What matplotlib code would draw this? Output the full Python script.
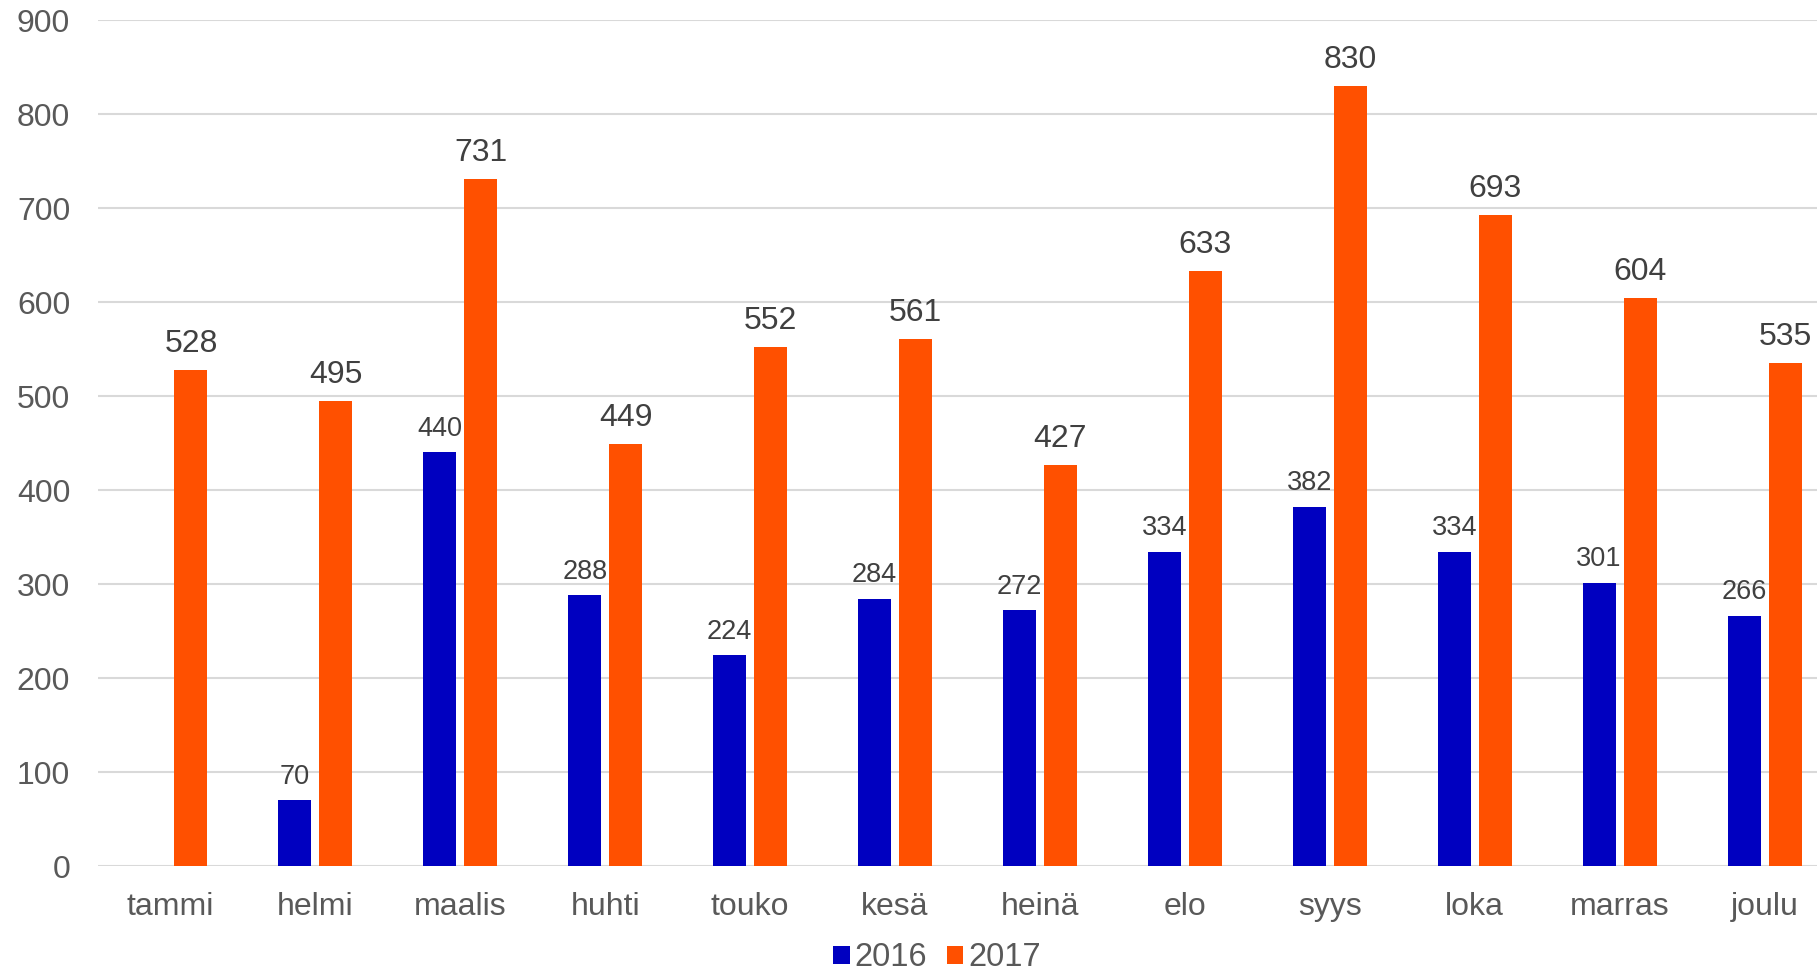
import numpy as np
from matplotlib import pyplot as plt

plt.rcParams['font.family'] = ['Liberation Sans', 'DejaVu Sans']

months = ["tammi", "helmi", "maalis", "huhti", "touko", "kesä",
          "heinä", "elo", "syys", "loka", "marras", "joulu"]
values_2016 = [np.nan, 70, 440, 288, 224, 284, 272, 334, 382, 334, 301, 266]
values_2017 = [528, 495, 731, 449, 552, 561, 427, 633, 830, 693, 604, 535]
y_ticks = [0, 100, 200, 300, 400, 500, 600, 700, 800, 900]

blue = '#0000C0'
orange = '#FF5000'
tick_grey = '#595959'
label_grey = '#404040'

fig = plt.figure(figsize=(18.17, 9.77), dpi=100)
ax = fig.add_axes([98 / 1817, 111 / 977, 1739 / 1817, 846 / 977])

x = np.arange(len(months))
w = 0.228
off = 0.1415
b16 = ax.bar(x - off, values_2016, w, color=blue, label="2016", zorder=3)
b17 = ax.bar(x + off, values_2017, w, color=orange, label="2017", zorder=3)

for xi, v in zip(x, values_2016):
    if not np.isnan(v):
        ax.annotate("%d" % v, (xi - off, v), xytext=(0, 12), textcoords='offset points',
                    ha='center', va='baseline', fontsize=19.5, color=label_grey)
for xi, v in zip(x, values_2017):
    ax.annotate("%d" % v, (xi + off, v), xytext=(0, 13), textcoords='offset points',
                ha='center', va='baseline', fontsize=23, color=label_grey)

ax.set_xlim(-0.5, len(months) - 0.5)
ax.set_ylim(0, 900)
ax.set_yticks(y_ticks)
ax.set_xticks(x)
ax.set_xticklabels(months)
ax.tick_params(axis='y', length=0, pad=20, labelsize=23, labelcolor=tick_grey)
ax.tick_params(axis='x', length=0, pad=18.5, labelsize=23, labelcolor=tick_grey)
ax.grid(axis='y', color='#d9d9d9', linewidth=1.5, zorder=0)
for s in ax.spines.values():
    s.set_visible(False)

fig.legend(handles=[b16, b17], loc='center', bbox_to_anchor=(937 / 1817, 1 - 958 / 977),
           ncol=2, frameon=False, fontsize=23.5, handlelength=0.5, handleheight=0.5,
           handletextpad=0.15, columnspacing=0.6, labelcolor=tick_grey,
           borderaxespad=0, borderpad=0)

fig.savefig('out.png', dpi=100)
